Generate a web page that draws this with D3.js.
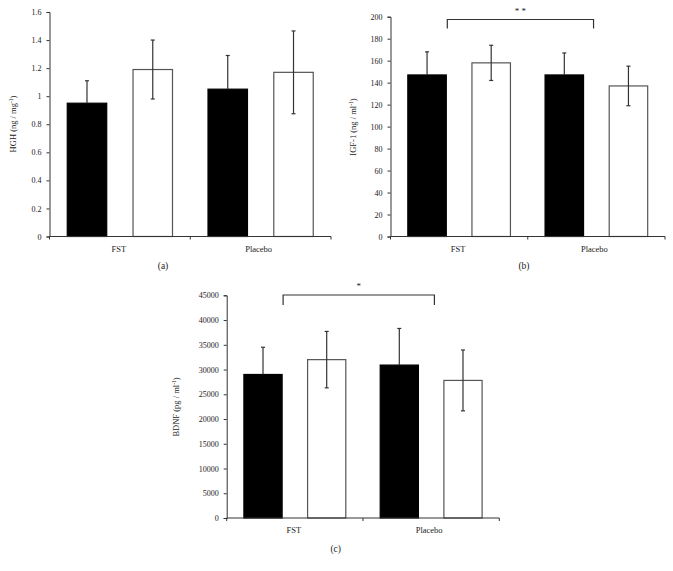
<!DOCTYPE html>
<html>
<head>
<meta charset="utf-8">
<script src="https://cdn.jsdelivr.net/npm/d3@7"></script>
<style>
  body { margin: 0; background: #fff; }
  svg text { font-family: "Liberation Serif", "DejaVu Serif", serif; fill: #222; }
</style>
</head>
<body>
<svg id="canvas" width="673" height="571"></svg>
<script>
// categories and the two bars inside each (black = first, white = second)
var categories = ["FST", "Placebo"];
var series = ["black", "white"];

// (a) HGH
var hghMean = [[0.95, 1.19], [1.05, 1.17]];
var hghErr = [[0.16, 0.21], [0.24, 0.295]];
var hghTicks = [0, 0.2, 0.4, 0.6, 0.8, 1, 1.2, 1.4, 1.6];

// (b) IGF-1
var igfMean = [[147, 158], [147, 137]];
var igfErr = [[21, 16], [20, 18]];
var igfTicks = [0, 20, 40, 60, 80, 100, 120, 140, 160, 180, 200];

// (c) BDNF
var bdnfMean = [[29000, 32000], [30900, 27800]];
var bdnfErr = [[5500, 5700], [7400, 6150]];
var bdnfTicks = [0, 5000, 10000, 15000, 20000, 25000, 30000, 35000, 40000, 45000];

var svg = d3.select("#canvas");

function drawPanel(opt) {
    var g = svg.append("g").attr("class", "panel");
    var yMax = opt.ticks[opt.ticks.length - 1];
    var y = d3.scaleLinear().domain([0, yMax]).range([opt.y0, opt.y1]);
    var x = d3.scaleBand().domain(categories).range([opt.x0, opt.x1]);
    var xs = d3.scaleBand().domain(series).range([0, x.bandwidth()])
        .paddingInner(0.4).paddingOuter(0.27);

    // y axis
    var yAxis = d3.axisLeft(y).tickValues(opt.ticks).tickSize(3).tickPadding(5)
        .tickFormat(function (d) { return String(d); });
    var ya = g.append("g").attr("transform", "translate(" + opt.x0 + ",0)").call(yAxis);
    ya.select(".domain").attr("stroke", "#333");
    ya.selectAll(".tick line").attr("stroke", "#333");
    ya.selectAll("text").attr("font-size", 8).attr("font-family", "Liberation Serif").attr("fill", "#222");

    // bars
    categories.forEach(function (c, ci) {
        series.forEach(function (s, si) {
            var v = opt.mean[ci][si];
            g.append("rect")
                .attr("x", x(c) + xs(s))
                .attr("y", y(v))
                .attr("width", xs.bandwidth())
                .attr("height", y(0) - y(v))
                .attr("fill", s === "black" ? "#000" : "#fff")
                .attr("stroke", s === "black" ? "#000" : "#555")
                .attr("stroke-width", 1.2);
        });
    });

    // error bars (lower half of black bars is hidden in the fill)
    categories.forEach(function (c, ci) {
        series.forEach(function (s, si) {
            var v = opt.mean[ci][si], e = opt.err[ci][si];
            var cx = x(c) + xs(s) + xs.bandwidth() / 2;
            var lo = s === "black" ? v : v - e;
            g.append("line").attr("x1", cx).attr("x2", cx)
                .attr("y1", y(lo)).attr("y2", y(v + e))
                .attr("stroke", "#333").attr("stroke-width", 1.2);
            var caps = s === "black" ? [v + e] : [v - e, v + e];
            caps.forEach(function (t) {
                g.append("line").attr("x1", cx - 2).attr("x2", cx + 2)
                    .attr("y1", y(t)).attr("y2", y(t))
                    .attr("stroke", "#333").attr("stroke-width", 1.2);
            });
        });
    });

    // x axis
    g.append("line").attr("x1", opt.x0).attr("x2", opt.x1)
        .attr("y1", y(0)).attr("y2", y(0)).attr("stroke", "#333");
    [opt.x0, x(categories[1]), opt.x1].forEach(function (tx) {
        g.append("line").attr("x1", tx).attr("x2", tx)
            .attr("y1", y(0)).attr("y2", y(0) + 3).attr("stroke", "#333");
    });
    categories.forEach(function (c) {
        g.append("text")
            .attr("x", x(c) + x.bandwidth() / 2 - (c === "FST" ? 1 : 2))
            .attr("y", y(0) + 15)
            .attr("text-anchor", "middle")
            .attr("font-size", 8.5)
            .text(c);
    });

    // y title
    var yt = g.append("text")
        .attr("transform", "translate(" + opt.titleX + "," + opt.titleY + ") rotate(-90)")
        .attr("text-anchor", "middle")
        .attr("font-size", 8.5);
    yt.append("tspan").text(opt.title[0]);
    yt.append("tspan").attr("baseline-shift", "super").attr("font-size", 5.5).text(opt.title[1]);
    yt.append("tspan").text(")");

    // panel label
    g.append("text")
        .attr("x", opt.labelX).attr("y", opt.labelY)
        .attr("text-anchor", "middle")
        .attr("font-size", 9.5)
        .text(opt.label);

    // significance bracket
    if (opt.star) {
        var bx0 = x(categories[0]) + xs("black") + xs.bandwidth() + 1;
        var bx1 = x(categories[1]) + xs("black") + xs.bandwidth() + opt.bracketExtra;
        g.append("path")
            .attr("d", "M" + bx0 + "," + opt.bracketBottom + "V" + opt.bracketTop +
                "H" + bx1 + "V" + opt.bracketBottom)
            .attr("fill", "none").attr("stroke", "#333").attr("stroke-width", 1.2);
        g.append("text")
            .attr("x", (bx0 + bx1) / 2)
            .attr("y", opt.bracketTop - 6)
            .attr("text-anchor", "middle")
            .attr("font-size", 9)
            .text(opt.star);
    }
}

drawPanel({
    x0: 49.5, x1: 331, y0: 236.5, y1: 12,
    ticks: hghTicks, mean: hghMean, err: hghErr,
    title: ["HGH (ng / mg", "-1"], titleX: 16, titleY: 124,
    label: "(a)", labelX: 163, labelY: 269
});

drawPanel({
    x0: 390.5, x1: 665, y0: 236.5, y1: 16.7,
    ticks: igfTicks, mean: igfMean, err: igfErr,
    title: ["IGF-1 (ng / ml", "-1"], titleX: 356, titleY: 127,
    label: "(b)", labelX: 524, labelY: 269,
    star: "* *", bracketTop: 19.5, bracketBottom: 28.5, bracketExtra: 10
});

drawPanel({
    x0: 226.7, x1: 499.3, y0: 518, y1: 295.3,
    ticks: bdnfTicks, mean: bdnfMean, err: bdnfErr,
    title: ["BDNF (pg / ml", "-1"], titleX: 179, titleY: 407,
    label: "(c)", labelX: 335.7, labelY: 552,
    star: "*", bracketTop: 295, bracketBottom: 305, bracketExtra: 16
});
</script>
</body>
</html>
